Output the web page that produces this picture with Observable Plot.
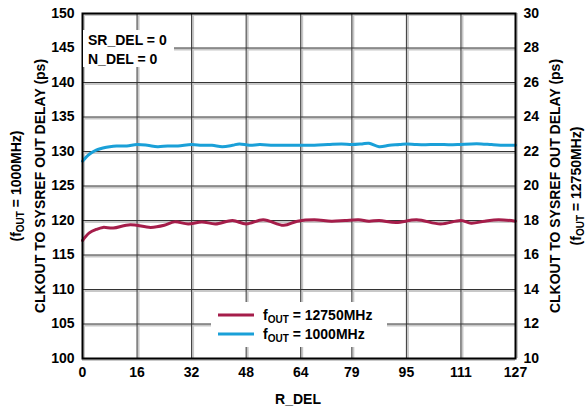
<!DOCTYPE html>
<html>
<head>
<meta charset="utf-8">
<script src="https://cdn.jsdelivr.net/npm/d3@7"></script>
<script src="https://cdn.jsdelivr.net/npm/@observablehq/plot@0.6"></script>
<style>
  html, body { margin: 0; padding: 0; background: #fff; }
  #chart svg { display: block; }
</style>
</head>
<body>
<div id="chart"></div>
<script>
// ---- data ----
const xTicks = [0, 16, 32, 48, 64, 79, 95, 111, 127];
const leftTicks = [100, 105, 110, 115, 120, 125, 130, 135, 140, 145, 150];
const rightTickLabels = [10, 12, 14, 16, 18, 20, 22, 24, 26, 28, 30];

// f_OUT = 1000 MHz (left axis, ps)
const rDelBlue = [0,2,4,6,8,10,13,16,19,22,25,28,32,35,38,41,44,46,49,52,56,60,64,68,72,76,79,82,84,87,90,93,95,98,102,106,110,114,117,120,124,127];
const delayBlue = [128.6,129.6,130.2,130.5,130.7,130.8,130.8,131.0,130.9,130.7,130.8,130.8,131.0,130.9,130.9,130.7,130.9,131.1,130.9,131.0,130.9,130.9,130.9,130.9,131.0,131.1,131.0,131.1,131.2,130.7,130.9,131.0,131.1,131.0,131.0,131.0,131.0,131.1,131.1,131.0,130.9,130.9];

// f_OUT = 12750 MHz (right axis, ps)
const rDelRed = [0,2,4,6,9,14,20,24,27,31,35,39,44,48,53,59,63,68,73,77,81,84,87,92,98,105,111,114,118,122,127];
const delayRed = [16.84,17.28,17.48,17.6,17.56,17.76,17.6,17.72,17.92,17.8,17.92,17.8,18.0,17.8,18.04,17.72,17.96,18.04,17.96,18.0,18.04,17.96,18.0,17.88,18.04,17.8,18.0,17.84,17.96,18.04,17.96];

const blue = "#1aa0d8";
const maroon = "#a51d4a";

// right axis (10..30) mapped onto left axis (100..150)
const rightToLeft = r => 100 + (r - 10) * 2.5;
const leftToRight = l => 10 + (l - 100) * 0.4;

const blueData = rDelBlue.map((x, i) => ({x, y: delayBlue[i]}));
const redData = rDelRed.map((x, i) => ({x, y: rightToLeft(delayRed[i])}));

const W = 587, H = 408;
const plot = Plot.plot({
  width: W,
  height: H,
  marginLeft: 82,
  marginRight: 72,
  marginTop: 13,
  marginBottom: 50,
  style: {fontFamily: "'Liberation Sans', Arial, sans-serif", fontSize: "14px", fontWeight: "bold", color: "#000", background: "#fff"},
  x: {domain: [0, 127]},
  y: {domain: [100, 150]},
  marks: [
    Plot.gridY(leftTicks, {stroke: "#c8c8c8", strokeOpacity: 1, strokeWidth: 2, dy: 1.5}),
    Plot.gridX(xTicks, {stroke: "#c8c8c8", strokeOpacity: 1, strokeWidth: 2, dx: 1.5}),
    Plot.gridY(leftTicks, {stroke: "#333", strokeOpacity: 1, strokeWidth: 1}),
    Plot.gridX(xTicks, {stroke: "#333", strokeOpacity: 1, strokeWidth: 1}),
    Plot.axisX({ticks: xTicks, tickSize: 0, tickPadding: 9, label: null}),
    Plot.axisY({anchor: "left", ticks: leftTicks, tickSize: 0, tickPadding: 8, label: null}),
    Plot.axisY({anchor: "right", ticks: leftTicks, tickSize: 0, tickPadding: 8, label: null,
      tickFormat: d => String(rightTickLabels[leftTicks.indexOf(d)] ?? leftToRight(d))}),
    Plot.line(blueData, {x: "x", y: "y", stroke: blue, strokeWidth: 3, curve: "catmull-rom"}),
    Plot.line(redData, {x: "x", y: "y", stroke: maroon, strokeWidth: 3, curve: "catmull-rom"}),
    Plot.frame({stroke: "#000", strokeWidth: 2})
  ]
});
document.getElementById("chart").appendChild(plot);

// ---- annotations, titles, legend ----
const svg = d3.select(plot);
const font = "'Liberation Sans', Arial, sans-serif";
const FS = 14;

function txt(parent) {
  return parent.append("text").attr("text-anchor", "start")
    .attr("font-family", font).attr("font-size", FS).attr("font-weight", "bold").attr("fill", "#000");
}
function fOut(sel, rest) {
  sel.append("tspan").text("f");
  sel.append("tspan").attr("font-size", 10).attr("dy", 3).text("OUT");
  sel.append("tspan").attr("dy", -3).text(rest);
}

// annotation box
const ann = svg.append("g");
ann.append("rect").attr("x", 83).attr("y", 30).attr("width", 91).attr("height", 37).attr("fill", "#fff");
txt(ann).attr("x", 88).attr("y", 45).text("SR_DEL = 0");
txt(ann).attr("x", 88).attr("y", 64).text("N_DEL = 0");

// legend
const lg = svg.append("g");
lg.append("rect").attr("x", 211).attr("y", 302).attr("width", 176).attr("height", 45).attr("fill", "#fff");
lg.append("line").attr("x1", 218).attr("x2", 254).attr("y1", 315).attr("y2", 315).attr("stroke", maroon).attr("stroke-width", 3);
lg.append("line").attr("x1", 218).attr("x2", 254).attr("y1", 334).attr("y2", 334).attr("stroke", blue).attr("stroke-width", 3);
fOut(txt(lg).attr("x", 263).attr("y", 320), " = 12750MHz");
fOut(txt(lg).attr("x", 263).attr("y", 339), " = 1000MHz");

// axis titles
const cy = 186;
function vtitle(x, builder) {
  const t = svg.append("text")
    .attr("transform", `translate(${x},${cy}) rotate(-90)`)
    .attr("text-anchor", "middle")
    .attr("font-family", font).attr("font-size", FS).attr("font-weight", "bold").attr("fill", "#000");
  builder(t);
}
vtitle(45, t => t.text("CLKOUT TO SYSREF OUT DELAY (ps)"));
vtitle(21, t => { t.append("tspan").text("("); fOut(t, " = 1000MHz)"); });
vtitle(560, t => t.text("CLKOUT TO SYSREF OUT DELAY (ps)"));
vtitle(581, t => { t.append("tspan").text("("); fOut(t, " = 12750MHz)"); });

svg.append("text").attr("x", 298).attr("y", 404).attr("text-anchor", "middle")
  .attr("font-family", font).attr("font-size", FS).attr("font-weight", "bold").attr("fill", "#000").text("R_DEL");
</script>
</body>
</html>
